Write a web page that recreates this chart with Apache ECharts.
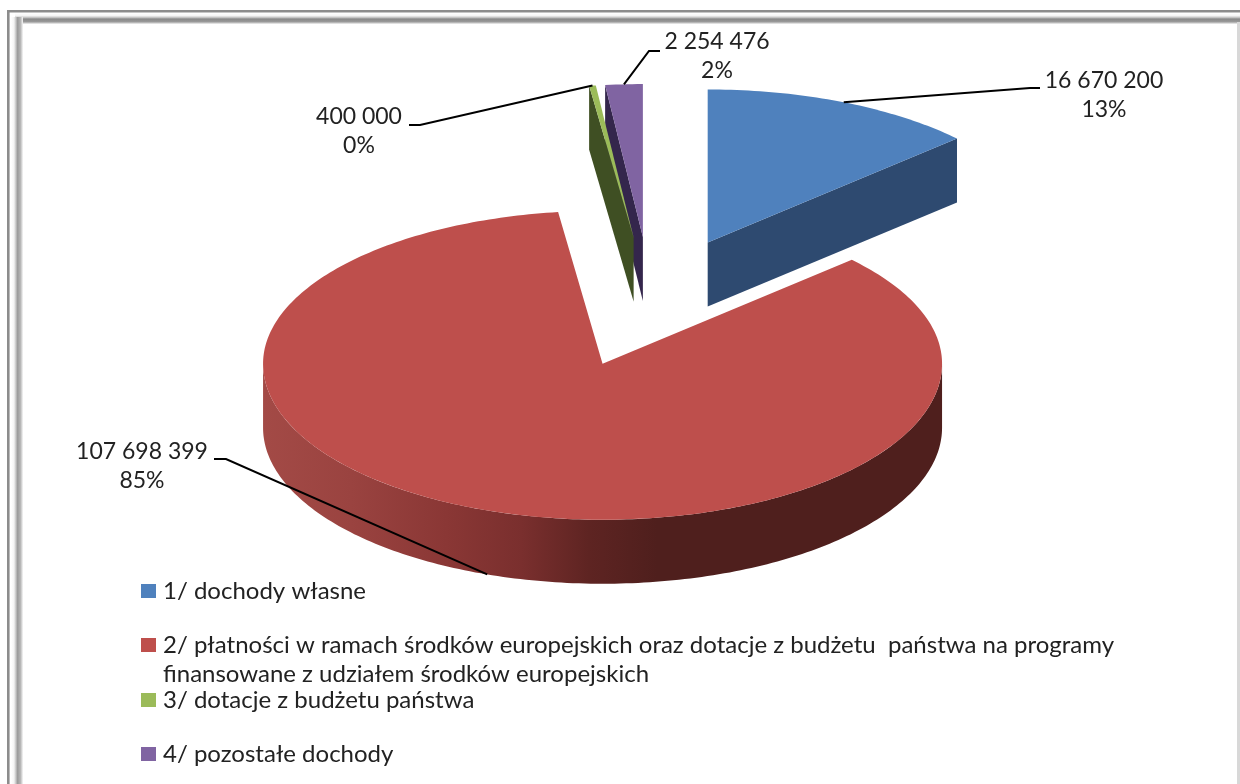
<!DOCTYPE html>
<html>
<head>
<meta charset="utf-8">
<style>html,body{margin:0;padding:0;background:#fff}#chart{width:1240px;height:784px}</style>
<script src="https://cdn.jsdelivr.net/npm/echarts@6/dist/echarts.min.js"></script>
</head>
<body>
<div id="chart"></div>
<script>
// ---- data ----
const categories = [
  '1/ dochody własne',
  '2/ płatności w ramach środków europejskich oraz dotacje z budżetu  państwa na programy\nfinansowane z udziałem środków europejskich',
  '3/ dotacje z budżetu państwa',
  '4/ pozostałe dochody'
];
const values = [16670200, 107698399, 400000, 2254476];

// ---- styles ----
const topColors = ['#4f81bd', '#be4f4c', '#9bbb59', '#8064a2'];
const wallColors = ['#2e4a70', '#8a3432', '#3f4f23', '#34264c'];
const FONT = 'Lato';
const TEXT = '#222222';
const LABEL_FS = 23;
const LEGEND_FS = 24;

// ---- layout ----
const pie = {cx: 650.8, cy: 302.3, explode: 142, explodeK: 0.46, rx: 339.5, ryBack: 153, ryFront: 156, depth: 64};
const elbows = [
  [[1030, 88], [1040, 88]],
  [[226, 459], [214, 459]],
  [[420, 125], [409, 125]],
  [[649, 51], [660, 51]]
];
const labelPos = [[1104, 95], [142, 466], [359, 131], [717, 56]];
const legendTops = [576.5, 601.5, 685.5, 739.5];
const drawOrder = [0, 1, 3, 2];

const total = values.reduce((a, b) => a + b, 0);
const fmt = v => String(v).replace(/\B(?=(\d{3})+$)/g, ' ');
const RAD = Math.PI / 180;

function sliceAngles(idx) {
  let s = 0;
  for (let i = 0; i < idx; i++) s += values[i];
  return [s / total * 360, (s + values[idx]) / total * 360];
}
function renderSlice(idx, api) {
  const value = api.value(0);
  const [a, b] = sliceAngles(idx);
  const mid = (a + b) / 2;
  const ox = pie.cx + pie.explode * Math.sin(mid * RAD);
  const oy = pie.cy - pie.explode * pie.explodeK * Math.cos(mid * RAD);
  const P = (deg, dz) => {
    const c = Math.cos(deg * RAD);
    const ry = c > 0 ? pie.ryBack : pie.ryFront;
    return [ox + pie.rx * Math.sin(deg * RAD), oy - ry * c + (dz || 0)];
  };
  const arc = (from, to, dz) => {
    const pts = [];
    const n = Math.max(2, Math.ceil(Math.abs(to - from)));
    for (let i = 0; i <= n; i++) pts.push(P(from + (to - from) * i / n, dz));
    return pts;
  };
  const children = [];
  const wall = (points, fill) => children.push({type: 'polygon', shape: {points}, style: {fill, stroke: null}});
  const apex = [ox, oy], apexLow = [ox, oy + pie.depth];
  // visible radial walls
  if (Math.sin(a * RAD) < -1e-6) wall([apex, P(a), P(a, pie.depth), apexLow], wallColors[idx]);
  if (Math.sin(b * RAD) > 1e-6) wall([apex, P(b), P(b, pie.depth), apexLow], wallColors[idx]);
  // visible outer wall, shaded left to right
  const f0 = Math.max(a, 90), f1 = Math.min(b, 270);
  if (f1 > f0) {
    const front = arc(f0, f1, 0).concat(arc(f1, f0, pie.depth));
    const fill = new echarts.graphic.LinearGradient(0, 0, 1, 0, [
      {offset: 0, color: '#a34a46'},
      {offset: 0.13, color: '#9a4340'},
      {offset: 0.27, color: '#8a3735'},
      {offset: 0.38, color: '#7a2f2e'},
      {offset: 0.48, color: '#5e2422'},
      {offset: 0.58, color: '#4f1f1d'},
      {offset: 1, color: '#4f1f1d'}
    ]);
    children.push({type: 'polygon', shape: {points: front}, style: {fill}});
  }
  // top face
  children.push({type: 'polygon', shape: {points: [apex].concat(arc(a, b, 0))}, style: {fill: topColors[idx]}});
  // leader line and label
  const tip = Math.cos(mid * RAD) < 0 ? P(mid, pie.depth) : P(mid);
  children.push({type: 'polyline', shape: {points: [tip].concat(elbows[idx])}, style: {fill: null, stroke: '#000', lineWidth: 2}, z2: 10});
  children.push({
    type: 'text', x: labelPos[idx][0], y: labelPos[idx][1], z2: 11,
    style: {
      text: fmt(value) + '\n' + Math.round(value / total * 100) + '%',
      fill: TEXT, font: LABEL_FS + 'px ' + FONT, lineHeight: 29, align: 'center', verticalAlign: 'middle'
    }
  });
  return {type: 'group', children};
}

const series = values.map((v, i) => ({
  name: categories[i],
  type: 'custom',
  coordinateSystem: 'none',
  z: 2 + drawOrder.indexOf(i),
  silent: true,
  animation: false,
  itemStyle: {color: topColors[i]},
  data: [[v]],
  renderItem: (params, api) => renderSlice(i, api)
}));

const legends = categories.map((name, i) => ({
  data: [{name, icon: 'rect'}],
  orient: 'vertical',
  left: 141,
  top: legendTops[i],
  padding: 0,
  itemWidth: 15,
  itemHeight: 14,
  selectedMode: false,
  textStyle: {fontFamily: FONT, fontSize: LEGEND_FS, color: TEXT, lineHeight: 29, padding: [0, 0, 0, 2]},
  formatter: n => n.includes('\n') ? '\n' + n : n
}));

// picture frame
const bar = (x, y, w, h, stops, horiz) => ({
  type: 'rect', silent: true, z: 100,
  shape: {x, y, width: w, height: h},
  style: {fill: new echarts.graphic.LinearGradient(0, 0, horiz ? 1 : 0, horiz ? 0 : 1, stops)}
});
const solid = (x, y, w, h, fill) => ({type: 'rect', silent: true, z: 100, shape: {x, y, width: w, height: h}, style: {fill}});
const frameTop = [
  {offset: 0, color: '#ffffff'}, {offset: 0.25, color: '#f4f4f4'}, {offset: 0.4, color: '#c8c8c8'},
  {offset: 0.55, color: '#888888'}, {offset: 0.8, color: '#9a9a9a'}, {offset: 1, color: '#f4f4f4'}
];
const frameLeft = [
  {offset: 0, color: '#ffffff'}, {offset: 0.25, color: '#f4f4f4'}, {offset: 0.4, color: '#c8c8c8'},
  {offset: 0.55, color: '#9a9a9a'}, {offset: 0.8, color: '#b8b8b8'}, {offset: 1, color: '#f8f8f8'}
];
const graphic = [
  solid(7, 10, 1233, 2.4, '#8c8c8c'),
  solid(7, 10, 2.6, 774, '#8c8c8c'),
  bar(15, 13, 1225, 11, frameTop, false),
  bar(11, 17, 12, 767, frameLeft, true),
  solid(1237, 22, 3, 762, '#d8d8d8')
];

const chart = echarts.init(document.getElementById('chart'), null, {renderer: 'canvas'});
chart.setOption({
  backgroundColor: '#ffffff',
  animation: false,
  legend: legends,
  series,
  graphic
});
</script>
</body>
</html>
